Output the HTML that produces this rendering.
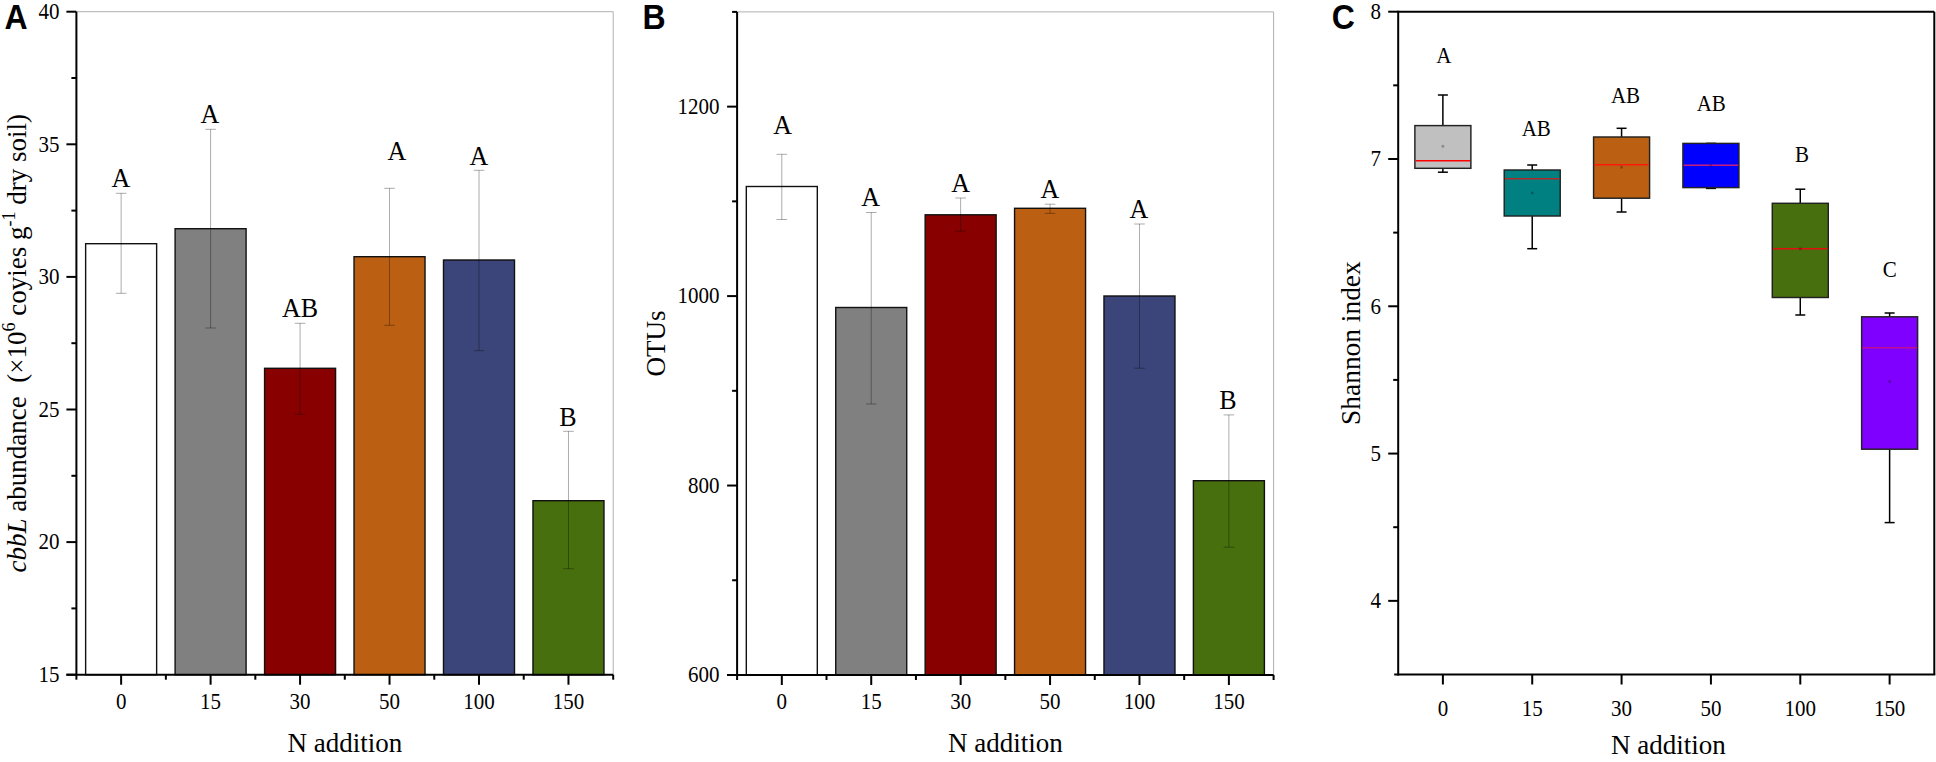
<!DOCTYPE html>
<html><head><meta charset="utf-8"><title>Figure</title>
<style>html,body{margin:0;padding:0;background:#fff;}svg{display:block;}</style>
</head><body>
<svg width="1936" height="762" viewBox="0 0 1936 762">
<rect width="1936" height="762" fill="#fff"/>
<line x1="76.4" y1="11.7" x2="613.2" y2="11.7" stroke="#b0b0b0" stroke-width="1"/>
<line x1="613.2" y1="11.7" x2="613.2" y2="674.7" stroke="#b0b0b0" stroke-width="1"/>
<rect x="85.63" y="243.7" width="71" height="431" fill="#ffffff" stroke="#111" stroke-width="1.4"/>
<rect x="175.1" y="228.7" width="71" height="446" fill="#808080" stroke="#111" stroke-width="1.4"/>
<rect x="264.57" y="368.3" width="71" height="306.4" fill="#880000" stroke="#111" stroke-width="1.4"/>
<rect x="354.03" y="256.7" width="71" height="418" fill="#bb5f12" stroke="#111" stroke-width="1.4"/>
<rect x="443.5" y="260" width="71" height="414.7" fill="#3c4579" stroke="#111" stroke-width="1.4"/>
<rect x="532.97" y="500.7" width="71" height="174" fill="#476f0e" stroke="#111" stroke-width="1.4"/>
<line x1="121.13" y1="193.3" x2="121.13" y2="293.3" stroke="#000" stroke-width="1" stroke-opacity="0.33"/>
<line x1="115.83" y1="193.3" x2="126.43" y2="193.3" stroke="#000" stroke-width="1" stroke-opacity="0.33"/>
<line x1="115.83" y1="293.3" x2="126.43" y2="293.3" stroke="#000" stroke-width="1" stroke-opacity="0.33"/>
<line x1="210.6" y1="129.3" x2="210.6" y2="328" stroke="#000" stroke-width="1" stroke-opacity="0.33"/>
<line x1="205.3" y1="129.3" x2="215.9" y2="129.3" stroke="#000" stroke-width="1" stroke-opacity="0.33"/>
<line x1="205.3" y1="328" x2="215.9" y2="328" stroke="#000" stroke-width="1" stroke-opacity="0.33"/>
<line x1="300.07" y1="323.3" x2="300.07" y2="414.3" stroke="#000" stroke-width="1" stroke-opacity="0.33"/>
<line x1="294.77" y1="323.3" x2="305.37" y2="323.3" stroke="#000" stroke-width="1" stroke-opacity="0.33"/>
<line x1="294.77" y1="414.3" x2="305.37" y2="414.3" stroke="#000" stroke-width="1" stroke-opacity="0.33"/>
<line x1="389.53" y1="188.3" x2="389.53" y2="325.3" stroke="#000" stroke-width="1" stroke-opacity="0.33"/>
<line x1="384.23" y1="188.3" x2="394.83" y2="188.3" stroke="#000" stroke-width="1" stroke-opacity="0.33"/>
<line x1="384.23" y1="325.3" x2="394.83" y2="325.3" stroke="#000" stroke-width="1" stroke-opacity="0.33"/>
<line x1="479" y1="170.3" x2="479" y2="350.7" stroke="#000" stroke-width="1" stroke-opacity="0.33"/>
<line x1="473.7" y1="170.3" x2="484.3" y2="170.3" stroke="#000" stroke-width="1" stroke-opacity="0.33"/>
<line x1="473.7" y1="350.7" x2="484.3" y2="350.7" stroke="#000" stroke-width="1" stroke-opacity="0.33"/>
<line x1="568.47" y1="431.3" x2="568.47" y2="568.7" stroke="#000" stroke-width="1" stroke-opacity="0.33"/>
<line x1="563.17" y1="431.3" x2="573.77" y2="431.3" stroke="#000" stroke-width="1" stroke-opacity="0.33"/>
<line x1="563.17" y1="568.7" x2="573.77" y2="568.7" stroke="#000" stroke-width="1" stroke-opacity="0.33"/>
<line x1="76.4" y1="11.7" x2="76.4" y2="675.7" stroke="#000" stroke-width="2"/>
<line x1="66.4" y1="674.7" x2="613.2" y2="674.7" stroke="#000" stroke-width="2"/>
<line x1="66.4" y1="674.7" x2="76.4" y2="674.7" stroke="#000" stroke-width="2"/>
<line x1="66.4" y1="542.1" x2="76.4" y2="542.1" stroke="#000" stroke-width="2"/>
<line x1="66.4" y1="409.5" x2="76.4" y2="409.5" stroke="#000" stroke-width="2"/>
<line x1="66.4" y1="276.9" x2="76.4" y2="276.9" stroke="#000" stroke-width="2"/>
<line x1="66.4" y1="144.3" x2="76.4" y2="144.3" stroke="#000" stroke-width="2"/>
<line x1="66.4" y1="11.7" x2="76.4" y2="11.7" stroke="#000" stroke-width="2"/>
<line x1="71.4" y1="608.4" x2="76.4" y2="608.4" stroke="#000" stroke-width="2"/>
<line x1="71.4" y1="475.8" x2="76.4" y2="475.8" stroke="#000" stroke-width="2"/>
<line x1="71.4" y1="343.2" x2="76.4" y2="343.2" stroke="#000" stroke-width="2"/>
<line x1="71.4" y1="210.6" x2="76.4" y2="210.6" stroke="#000" stroke-width="2"/>
<line x1="71.4" y1="78" x2="76.4" y2="78" stroke="#000" stroke-width="2"/>
<text transform="translate(59.5,682) scale(1,1.07)" font-size="21" text-anchor="end" font-family="'Liberation Serif','Times New Roman',serif">15</text>
<text transform="translate(59.5,549.4) scale(1,1.07)" font-size="21" text-anchor="end" font-family="'Liberation Serif','Times New Roman',serif">20</text>
<text transform="translate(59.5,416.8) scale(1,1.07)" font-size="21" text-anchor="end" font-family="'Liberation Serif','Times New Roman',serif">25</text>
<text transform="translate(59.5,284.2) scale(1,1.07)" font-size="21" text-anchor="end" font-family="'Liberation Serif','Times New Roman',serif">30</text>
<text transform="translate(59.5,151.6) scale(1,1.07)" font-size="21" text-anchor="end" font-family="'Liberation Serif','Times New Roman',serif">35</text>
<text transform="translate(59.5,19) scale(1,1.07)" font-size="21" text-anchor="end" font-family="'Liberation Serif','Times New Roman',serif">40</text>
<line x1="121.13" y1="674.7" x2="121.13" y2="684.7" stroke="#000" stroke-width="2"/>
<line x1="210.6" y1="674.7" x2="210.6" y2="684.7" stroke="#000" stroke-width="2"/>
<line x1="300.07" y1="674.7" x2="300.07" y2="684.7" stroke="#000" stroke-width="2"/>
<line x1="389.53" y1="674.7" x2="389.53" y2="684.7" stroke="#000" stroke-width="2"/>
<line x1="479" y1="674.7" x2="479" y2="684.7" stroke="#000" stroke-width="2"/>
<line x1="568.47" y1="674.7" x2="568.47" y2="684.7" stroke="#000" stroke-width="2"/>
<line x1="76.4" y1="674.7" x2="76.4" y2="679.7" stroke="#000" stroke-width="2"/>
<line x1="165.87" y1="674.7" x2="165.87" y2="679.7" stroke="#000" stroke-width="2"/>
<line x1="255.33" y1="674.7" x2="255.33" y2="679.7" stroke="#000" stroke-width="2"/>
<line x1="344.8" y1="674.7" x2="344.8" y2="679.7" stroke="#000" stroke-width="2"/>
<line x1="434.27" y1="674.7" x2="434.27" y2="679.7" stroke="#000" stroke-width="2"/>
<line x1="523.73" y1="674.7" x2="523.73" y2="679.7" stroke="#000" stroke-width="2"/>
<line x1="613.2" y1="674.7" x2="613.2" y2="679.7" stroke="#000" stroke-width="2"/>
<text transform="translate(120.85,187.4) scale(1,1.06)" font-size="26" text-anchor="middle" font-family="'Liberation Serif','Times New Roman',serif">A</text>
<text transform="translate(210,122.9) scale(1,1.06)" font-size="26" text-anchor="middle" font-family="'Liberation Serif','Times New Roman',serif">A</text>
<text transform="translate(300,316.9) scale(1,1.06)" font-size="26" text-anchor="middle" font-family="'Liberation Serif','Times New Roman',serif">AB</text>
<text transform="translate(396.9,159.9) scale(1,1.06)" font-size="26" text-anchor="middle" font-family="'Liberation Serif','Times New Roman',serif">A</text>
<text transform="translate(478.8,164.6) scale(1,1.06)" font-size="26" text-anchor="middle" font-family="'Liberation Serif','Times New Roman',serif">A</text>
<text transform="translate(568,425.6) scale(1,1.06)" font-size="26" text-anchor="middle" font-family="'Liberation Serif','Times New Roman',serif">B</text>
<text transform="translate(121.13,708.6) scale(1,1.07)" font-size="21" text-anchor="middle" font-family="'Liberation Serif','Times New Roman',serif">0</text>
<text transform="translate(210.6,708.6) scale(1,1.07)" font-size="21" text-anchor="middle" font-family="'Liberation Serif','Times New Roman',serif">15</text>
<text transform="translate(300.07,708.6) scale(1,1.07)" font-size="21" text-anchor="middle" font-family="'Liberation Serif','Times New Roman',serif">30</text>
<text transform="translate(389.53,708.6) scale(1,1.07)" font-size="21" text-anchor="middle" font-family="'Liberation Serif','Times New Roman',serif">50</text>
<text transform="translate(479,708.6) scale(1,1.07)" font-size="21" text-anchor="middle" font-family="'Liberation Serif','Times New Roman',serif">100</text>
<text transform="translate(568.47,708.6) scale(1,1.07)" font-size="21" text-anchor="middle" font-family="'Liberation Serif','Times New Roman',serif">150</text>
<text x="344.8" y="752.2" font-size="27" text-anchor="middle" font-family="'Liberation Serif','Times New Roman',serif">N addition</text>
<text xml:space="preserve" transform="translate(26.2,343.2) rotate(-90)" font-size="27" text-anchor="middle" font-family="'Liberation Serif','Times New Roman',serif"><tspan font-style="italic">cbbL</tspan> abundance  (×10<tspan font-size="18" dy="-11">6</tspan><tspan dy="11"> coyies g</tspan><tspan font-size="18" dy="-11">-1</tspan><tspan dy="11"> dry soil)</tspan></text>
<text transform="translate(4.5,28.9) scale(1,1.09)" font-size="32" text-anchor="start" font-family="'Liberation Sans',Arial,sans-serif" font-weight="bold">A</text>
<line x1="737.1" y1="11.9" x2="1273.6" y2="11.9" stroke="#b0b0b0" stroke-width="1"/>
<line x1="1273.6" y1="11.9" x2="1273.6" y2="675" stroke="#b0b0b0" stroke-width="1"/>
<rect x="746.31" y="186.5" width="71" height="488.5" fill="#ffffff" stroke="#111" stroke-width="1.4"/>
<rect x="835.73" y="307.5" width="71" height="367.5" fill="#808080" stroke="#111" stroke-width="1.4"/>
<rect x="925.14" y="214.8" width="71" height="460.2" fill="#880000" stroke="#111" stroke-width="1.4"/>
<rect x="1014.56" y="208.3" width="71" height="466.7" fill="#bb5f12" stroke="#111" stroke-width="1.4"/>
<rect x="1103.97" y="296" width="71" height="379" fill="#3c4579" stroke="#111" stroke-width="1.4"/>
<rect x="1193.39" y="480.7" width="71" height="194.3" fill="#476f0e" stroke="#111" stroke-width="1.4"/>
<line x1="781.81" y1="154.3" x2="781.81" y2="219.5" stroke="#000" stroke-width="1" stroke-opacity="0.33"/>
<line x1="776.51" y1="154.3" x2="787.11" y2="154.3" stroke="#000" stroke-width="1" stroke-opacity="0.33"/>
<line x1="776.51" y1="219.5" x2="787.11" y2="219.5" stroke="#000" stroke-width="1" stroke-opacity="0.33"/>
<line x1="871.23" y1="212.5" x2="871.23" y2="404" stroke="#000" stroke-width="1" stroke-opacity="0.33"/>
<line x1="865.93" y1="212.5" x2="876.52" y2="212.5" stroke="#000" stroke-width="1" stroke-opacity="0.33"/>
<line x1="865.93" y1="404" x2="876.52" y2="404" stroke="#000" stroke-width="1" stroke-opacity="0.33"/>
<line x1="960.64" y1="198" x2="960.64" y2="231.2" stroke="#000" stroke-width="1" stroke-opacity="0.33"/>
<line x1="955.34" y1="198" x2="965.94" y2="198" stroke="#000" stroke-width="1" stroke-opacity="0.33"/>
<line x1="955.34" y1="231.2" x2="965.94" y2="231.2" stroke="#000" stroke-width="1" stroke-opacity="0.33"/>
<line x1="1050.06" y1="204.2" x2="1050.06" y2="213.4" stroke="#000" stroke-width="1" stroke-opacity="0.33"/>
<line x1="1044.76" y1="204.2" x2="1055.36" y2="204.2" stroke="#000" stroke-width="1" stroke-opacity="0.33"/>
<line x1="1044.76" y1="213.4" x2="1055.36" y2="213.4" stroke="#000" stroke-width="1" stroke-opacity="0.33"/>
<line x1="1139.47" y1="224" x2="1139.47" y2="368.2" stroke="#000" stroke-width="1" stroke-opacity="0.33"/>
<line x1="1134.17" y1="224" x2="1144.77" y2="224" stroke="#000" stroke-width="1" stroke-opacity="0.33"/>
<line x1="1134.17" y1="368.2" x2="1144.77" y2="368.2" stroke="#000" stroke-width="1" stroke-opacity="0.33"/>
<line x1="1228.89" y1="414.9" x2="1228.89" y2="547.2" stroke="#000" stroke-width="1" stroke-opacity="0.33"/>
<line x1="1223.59" y1="414.9" x2="1234.19" y2="414.9" stroke="#000" stroke-width="1" stroke-opacity="0.33"/>
<line x1="1223.59" y1="547.2" x2="1234.19" y2="547.2" stroke="#000" stroke-width="1" stroke-opacity="0.33"/>
<line x1="737.1" y1="11.9" x2="737.1" y2="676" stroke="#000" stroke-width="2"/>
<line x1="727.1" y1="675" x2="1273.6" y2="675" stroke="#000" stroke-width="2"/>
<line x1="727.1" y1="675" x2="737.1" y2="675" stroke="#000" stroke-width="2"/>
<line x1="727.1" y1="485.54" x2="737.1" y2="485.54" stroke="#000" stroke-width="2"/>
<line x1="727.1" y1="296.09" x2="737.1" y2="296.09" stroke="#000" stroke-width="2"/>
<line x1="727.1" y1="106.63" x2="737.1" y2="106.63" stroke="#000" stroke-width="2"/>
<line x1="732.1" y1="580.27" x2="737.1" y2="580.27" stroke="#000" stroke-width="2"/>
<line x1="732.1" y1="390.81" x2="737.1" y2="390.81" stroke="#000" stroke-width="2"/>
<line x1="732.1" y1="201.36" x2="737.1" y2="201.36" stroke="#000" stroke-width="2"/>
<line x1="732.1" y1="11.9" x2="737.1" y2="11.9" stroke="#000" stroke-width="2"/>
<text transform="translate(719.5,682.3) scale(1,1.07)" font-size="21" text-anchor="end" font-family="'Liberation Serif','Times New Roman',serif">600</text>
<text transform="translate(719.5,492.84) scale(1,1.07)" font-size="21" text-anchor="end" font-family="'Liberation Serif','Times New Roman',serif">800</text>
<text transform="translate(719.5,303.39) scale(1,1.07)" font-size="21" text-anchor="end" font-family="'Liberation Serif','Times New Roman',serif">1000</text>
<text transform="translate(719.5,113.93) scale(1,1.07)" font-size="21" text-anchor="end" font-family="'Liberation Serif','Times New Roman',serif">1200</text>
<line x1="781.81" y1="675" x2="781.81" y2="685" stroke="#000" stroke-width="2"/>
<line x1="871.23" y1="675" x2="871.23" y2="685" stroke="#000" stroke-width="2"/>
<line x1="960.64" y1="675" x2="960.64" y2="685" stroke="#000" stroke-width="2"/>
<line x1="1050.06" y1="675" x2="1050.06" y2="685" stroke="#000" stroke-width="2"/>
<line x1="1139.47" y1="675" x2="1139.47" y2="685" stroke="#000" stroke-width="2"/>
<line x1="1228.89" y1="675" x2="1228.89" y2="685" stroke="#000" stroke-width="2"/>
<line x1="737.1" y1="675" x2="737.1" y2="680" stroke="#000" stroke-width="2"/>
<line x1="826.52" y1="675" x2="826.52" y2="680" stroke="#000" stroke-width="2"/>
<line x1="915.93" y1="675" x2="915.93" y2="680" stroke="#000" stroke-width="2"/>
<line x1="1005.35" y1="675" x2="1005.35" y2="680" stroke="#000" stroke-width="2"/>
<line x1="1094.77" y1="675" x2="1094.77" y2="680" stroke="#000" stroke-width="2"/>
<line x1="1184.18" y1="675" x2="1184.18" y2="680" stroke="#000" stroke-width="2"/>
<line x1="1273.6" y1="675" x2="1273.6" y2="680" stroke="#000" stroke-width="2"/>
<text transform="translate(782.7,133.8) scale(1,1.06)" font-size="26" text-anchor="middle" font-family="'Liberation Serif','Times New Roman',serif">A</text>
<text transform="translate(870.7,206.3) scale(1,1.06)" font-size="26" text-anchor="middle" font-family="'Liberation Serif','Times New Roman',serif">A</text>
<text transform="translate(960.6,192.4) scale(1,1.06)" font-size="26" text-anchor="middle" font-family="'Liberation Serif','Times New Roman',serif">A</text>
<text transform="translate(1050,197.9) scale(1,1.06)" font-size="26" text-anchor="middle" font-family="'Liberation Serif','Times New Roman',serif">A</text>
<text transform="translate(1139,218.3) scale(1,1.06)" font-size="26" text-anchor="middle" font-family="'Liberation Serif','Times New Roman',serif">A</text>
<text transform="translate(1228,408.6) scale(1,1.06)" font-size="26" text-anchor="middle" font-family="'Liberation Serif','Times New Roman',serif">B</text>
<text transform="translate(781.81,708.6) scale(1,1.07)" font-size="21" text-anchor="middle" font-family="'Liberation Serif','Times New Roman',serif">0</text>
<text transform="translate(871.23,708.6) scale(1,1.07)" font-size="21" text-anchor="middle" font-family="'Liberation Serif','Times New Roman',serif">15</text>
<text transform="translate(960.64,708.6) scale(1,1.07)" font-size="21" text-anchor="middle" font-family="'Liberation Serif','Times New Roman',serif">30</text>
<text transform="translate(1050.06,708.6) scale(1,1.07)" font-size="21" text-anchor="middle" font-family="'Liberation Serif','Times New Roman',serif">50</text>
<text transform="translate(1139.47,708.6) scale(1,1.07)" font-size="21" text-anchor="middle" font-family="'Liberation Serif','Times New Roman',serif">100</text>
<text transform="translate(1228.89,708.6) scale(1,1.07)" font-size="21" text-anchor="middle" font-family="'Liberation Serif','Times New Roman',serif">150</text>
<text x="1005.35" y="751.6" font-size="27" text-anchor="middle" font-family="'Liberation Serif','Times New Roman',serif">N addition</text>
<text transform="translate(664.8,343.45) rotate(-90)" font-size="27" text-anchor="middle" font-family="'Liberation Serif','Times New Roman',serif">OTUs</text>
<text transform="translate(642.5,28.9) scale(1,1.09)" font-size="32" text-anchor="start" font-family="'Liberation Sans',Arial,sans-serif" font-weight="bold">B</text>
<line x1="1442.88" y1="95" x2="1442.88" y2="125.6" stroke="#000" stroke-width="1.5"/>
<line x1="1442.88" y1="168.3" x2="1442.88" y2="172.2" stroke="#000" stroke-width="1.5"/>
<line x1="1437.88" y1="95" x2="1447.88" y2="95" stroke="#000" stroke-width="1.5"/>
<line x1="1437.88" y1="172.2" x2="1447.88" y2="172.2" stroke="#000" stroke-width="1.5"/>
<rect x="1414.88" y="125.6" width="56" height="42.7" fill="#c0c0c0" stroke="#222" stroke-width="1.45"/>
<line x1="1415.62" y1="160.8" x2="1470.12" y2="160.8" stroke="#ff0000" stroke-width="1.6"/>
<rect x="1441.58" y="145" width="2.6" height="2.6" fill="#000" fill-opacity="0.28"/>
<line x1="1532.22" y1="165" x2="1532.22" y2="170" stroke="#000" stroke-width="1.5"/>
<line x1="1532.22" y1="216" x2="1532.22" y2="248.7" stroke="#000" stroke-width="1.5"/>
<line x1="1527.22" y1="165" x2="1537.22" y2="165" stroke="#000" stroke-width="1.5"/>
<line x1="1527.22" y1="248.7" x2="1537.22" y2="248.7" stroke="#000" stroke-width="1.5"/>
<rect x="1504.22" y="170" width="56" height="46" fill="#008080" stroke="#222" stroke-width="1.45"/>
<line x1="1504.97" y1="178.8" x2="1559.47" y2="178.8" stroke="#b02a2a" stroke-width="1.6"/>
<rect x="1530.92" y="191.7" width="2.6" height="2.6" fill="#000" fill-opacity="0.28"/>
<line x1="1621.58" y1="128.3" x2="1621.58" y2="137" stroke="#000" stroke-width="1.5"/>
<line x1="1621.58" y1="198.2" x2="1621.58" y2="212" stroke="#000" stroke-width="1.5"/>
<line x1="1616.58" y1="128.3" x2="1626.58" y2="128.3" stroke="#000" stroke-width="1.5"/>
<line x1="1616.58" y1="212" x2="1626.58" y2="212" stroke="#000" stroke-width="1.5"/>
<rect x="1593.58" y="137" width="56" height="61.2" fill="#bb5f12" stroke="#222" stroke-width="1.45"/>
<line x1="1594.33" y1="164.7" x2="1648.83" y2="164.7" stroke="#ff1a0a" stroke-width="1.6"/>
<rect x="1620.28" y="165.9" width="2.6" height="2.6" fill="#000" fill-opacity="0.28"/>
<line x1="1710.92" y1="143.4" x2="1710.92" y2="143.4" stroke="#000" stroke-width="1.5"/>
<line x1="1710.92" y1="187.6" x2="1710.92" y2="188.4" stroke="#000" stroke-width="1.5"/>
<line x1="1705.92" y1="143.4" x2="1715.92" y2="143.4" stroke="#000" stroke-width="1.5"/>
<line x1="1705.92" y1="188.4" x2="1715.92" y2="188.4" stroke="#000" stroke-width="1.5"/>
<rect x="1682.92" y="143.4" width="56" height="44.2" fill="#0000ff" stroke="#222" stroke-width="1.45"/>
<line x1="1683.67" y1="165.2" x2="1738.17" y2="165.2" stroke="#c8207a" stroke-width="1.6"/>
<rect x="1709.62" y="164.2" width="2.6" height="2.6" fill="#000" fill-opacity="0.28"/>
<line x1="1800.28" y1="189.2" x2="1800.28" y2="203.3" stroke="#000" stroke-width="1.5"/>
<line x1="1800.28" y1="297.5" x2="1800.28" y2="315" stroke="#000" stroke-width="1.5"/>
<line x1="1795.28" y1="189.2" x2="1805.28" y2="189.2" stroke="#000" stroke-width="1.5"/>
<line x1="1795.28" y1="315" x2="1805.28" y2="315" stroke="#000" stroke-width="1.5"/>
<rect x="1772.28" y="203.3" width="56" height="94.2" fill="#476f0e" stroke="#222" stroke-width="1.45"/>
<line x1="1773.03" y1="248.8" x2="1827.53" y2="248.8" stroke="#e01010" stroke-width="1.6"/>
<rect x="1798.98" y="247.5" width="2.6" height="2.6" fill="#000" fill-opacity="0.28"/>
<line x1="1889.62" y1="313" x2="1889.62" y2="316.8" stroke="#000" stroke-width="1.5"/>
<line x1="1889.62" y1="449.2" x2="1889.62" y2="522.6" stroke="#000" stroke-width="1.5"/>
<line x1="1884.62" y1="313" x2="1894.62" y2="313" stroke="#000" stroke-width="1.5"/>
<line x1="1884.62" y1="522.6" x2="1894.62" y2="522.6" stroke="#000" stroke-width="1.5"/>
<rect x="1861.62" y="316.8" width="56" height="132.4" fill="#8000ff" stroke="#222" stroke-width="1.45"/>
<line x1="1862.38" y1="347.8" x2="1916.88" y2="347.8" stroke="#c01090" stroke-width="1.6"/>
<rect x="1888.33" y="380.3" width="2.6" height="2.6" fill="#000" fill-opacity="0.28"/>
<line x1="1398.2" y1="11.7" x2="1934.3" y2="11.7" stroke="#000" stroke-width="2"/>
<line x1="1934.3" y1="11.7" x2="1934.3" y2="674.5" stroke="#000" stroke-width="2"/>
<line x1="1398.2" y1="10.7" x2="1398.2" y2="675.5" stroke="#000" stroke-width="2"/>
<line x1="1394.2" y1="674.5" x2="1935.3" y2="674.5" stroke="#000" stroke-width="2"/>
<line x1="1388.2" y1="600.86" x2="1398.2" y2="600.86" stroke="#000" stroke-width="2"/>
<line x1="1388.2" y1="453.57" x2="1398.2" y2="453.57" stroke="#000" stroke-width="2"/>
<line x1="1388.2" y1="306.28" x2="1398.2" y2="306.28" stroke="#000" stroke-width="2"/>
<line x1="1388.2" y1="158.99" x2="1398.2" y2="158.99" stroke="#000" stroke-width="2"/>
<line x1="1388.2" y1="11.7" x2="1398.2" y2="11.7" stroke="#000" stroke-width="2"/>
<line x1="1393.2" y1="527.21" x2="1398.2" y2="527.21" stroke="#000" stroke-width="2"/>
<line x1="1393.2" y1="379.92" x2="1398.2" y2="379.92" stroke="#000" stroke-width="2"/>
<line x1="1393.2" y1="232.63" x2="1398.2" y2="232.63" stroke="#000" stroke-width="2"/>
<line x1="1393.2" y1="85.34" x2="1398.2" y2="85.34" stroke="#000" stroke-width="2"/>
<text transform="translate(1381,608.16) scale(1,1.07)" font-size="21" text-anchor="end" font-family="'Liberation Serif','Times New Roman',serif">4</text>
<text transform="translate(1381,460.87) scale(1,1.07)" font-size="21" text-anchor="end" font-family="'Liberation Serif','Times New Roman',serif">5</text>
<text transform="translate(1381,313.58) scale(1,1.07)" font-size="21" text-anchor="end" font-family="'Liberation Serif','Times New Roman',serif">6</text>
<text transform="translate(1381,166.29) scale(1,1.07)" font-size="21" text-anchor="end" font-family="'Liberation Serif','Times New Roman',serif">7</text>
<text transform="translate(1381,19) scale(1,1.07)" font-size="21" text-anchor="end" font-family="'Liberation Serif','Times New Roman',serif">8</text>
<line x1="1442.88" y1="674.5" x2="1442.88" y2="684.5" stroke="#000" stroke-width="2"/>
<text transform="translate(1442.88,715.5) scale(1,1.07)" font-size="21" text-anchor="middle" font-family="'Liberation Serif','Times New Roman',serif">0</text>
<line x1="1532.22" y1="674.5" x2="1532.22" y2="684.5" stroke="#000" stroke-width="2"/>
<text transform="translate(1532.22,715.5) scale(1,1.07)" font-size="21" text-anchor="middle" font-family="'Liberation Serif','Times New Roman',serif">15</text>
<line x1="1621.58" y1="674.5" x2="1621.58" y2="684.5" stroke="#000" stroke-width="2"/>
<text transform="translate(1621.58,715.5) scale(1,1.07)" font-size="21" text-anchor="middle" font-family="'Liberation Serif','Times New Roman',serif">30</text>
<line x1="1710.92" y1="674.5" x2="1710.92" y2="684.5" stroke="#000" stroke-width="2"/>
<text transform="translate(1710.92,715.5) scale(1,1.07)" font-size="21" text-anchor="middle" font-family="'Liberation Serif','Times New Roman',serif">50</text>
<line x1="1800.28" y1="674.5" x2="1800.28" y2="684.5" stroke="#000" stroke-width="2"/>
<text transform="translate(1800.28,715.5) scale(1,1.07)" font-size="21" text-anchor="middle" font-family="'Liberation Serif','Times New Roman',serif">100</text>
<line x1="1889.62" y1="674.5" x2="1889.62" y2="684.5" stroke="#000" stroke-width="2"/>
<text transform="translate(1889.62,715.5) scale(1,1.07)" font-size="21" text-anchor="middle" font-family="'Liberation Serif','Times New Roman',serif">150</text>
<text x="1668.35" y="754.1" font-size="27" text-anchor="middle" font-family="'Liberation Serif','Times New Roman',serif">N addition</text>
<text transform="translate(1359.6,343.1) rotate(-90)" font-size="27.4" text-anchor="middle" font-family="'Liberation Serif','Times New Roman',serif">Shannon index</text>
<text transform="translate(1443.8,63) scale(1,1.06)" font-size="21" text-anchor="middle" font-family="'Liberation Serif','Times New Roman',serif">A</text>
<text transform="translate(1536.2,135.7) scale(1,1.06)" font-size="21" text-anchor="middle" font-family="'Liberation Serif','Times New Roman',serif">AB</text>
<text transform="translate(1625.5,103) scale(1,1.06)" font-size="21" text-anchor="middle" font-family="'Liberation Serif','Times New Roman',serif">AB</text>
<text transform="translate(1711.2,110.7) scale(1,1.06)" font-size="21" text-anchor="middle" font-family="'Liberation Serif','Times New Roman',serif">AB</text>
<text transform="translate(1802,162) scale(1,1.06)" font-size="21" text-anchor="middle" font-family="'Liberation Serif','Times New Roman',serif">B</text>
<text transform="translate(1889.7,277) scale(1,1.06)" font-size="21" text-anchor="middle" font-family="'Liberation Serif','Times New Roman',serif">C</text>
<text transform="translate(1331.8,28.8) scale(1,1.09)" font-size="32" text-anchor="start" font-family="'Liberation Sans',Arial,sans-serif" font-weight="bold">C</text>
</svg>
</body></html>
